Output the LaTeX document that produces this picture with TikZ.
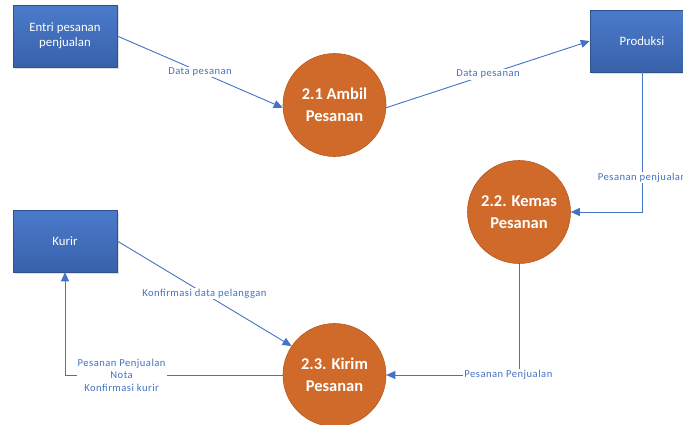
\documentclass[tikz,border=0pt]{standalone}
\usepackage{xcolor}
\usepackage{fontspec}
\setmainfont{Carlito}
\newfontfamily\lblfont[LetterSpace=4.5]{Carlito}
\usetikzlibrary{arrows.meta,shadows,positioning}

\definecolor{boxtop}{HTML}{4A7BCB}
\definecolor{boxbot}{HTML}{3961AA}
\definecolor{boxline}{HTML}{2F528F}
\definecolor{procfill}{HTML}{CF6A2A}
\definecolor{procline}{HTML}{B95A1E}
\definecolor{flowblue}{HTML}{4472C4}

\tikzset{
    entity/.style={rectangle, top color=boxtop, bottom color=boxbot, draw=boxline, line width=.5pt,
        minimum width=104pt, minimum height=62pt, align=center, text=white, font=\fontsize{12.8}{15}\selectfont,
        drop shadow={opacity=.25, shadow xshift=1.5pt, shadow yshift=-1.5pt}},
    process/.style={circle, fill=procfill, draw=procline, line width=.6pt, minimum size=103pt,
        inner sep=0pt, align=center, text=white, font=\fontsize{16.5}{22}\selectfont\bfseries},
    flow/.style={draw=flowblue, line width=.9pt, -{Triangle[length=9pt,width=8pt]}},
    lbl/.style={fill=white, text=flowblue, inner sep=1pt, align=center, font=\lblfont\fontsize{10.6}{12.5}\selectfont}
}

\begin{document}
\begin{tikzpicture}[x=1pt, y=-1pt]

        % Fix the frame.
        \useasboundingbox (0,0) rectangle (683,424);

        % Draw external entities.
        \node[entity] (entri) at (65,36) {Entri pesanan\\penjualan};
        \node[entity] (produksi) at (642,41) {Produksi};
        \node[entity] (kurir) at (65,241) {Kurir};

        % Draw processes.
        \node[process] (ambil) at (334.5,105) {2.1 Ambil\\Pesanan};
        \node[process] (kemas) at (519,212) {2.2. Kemas\\Pesanan};
        \node[process] (kirim) at (334.5,375) {2.3. Kirim\\Pesanan};

        % Draw data flows.
        \draw[flow] (entri.east) -- node[lbl]{Data pesanan} (ambil.183);
        \draw[flow] (ambil.357) -- node[lbl]{Data pesanan} (produksi.west);
        \draw[flow] (produksi.south) |- node[lbl, pos=.378]{Pesanan penjualan} (kemas.east);
        \draw[flow] (kemas.south) |- node[lbl, pos=.54]{Pesanan Penjualan} (kirim.east);
        \draw[flow] (kurir.east) -- node[lbl]{Konfirmasi data pelanggan} (kirim.146);
        \draw[flow] (kirim.west) -| node[lbl, pos=.37]{Pesanan Penjualan\\Nota\\Konfirmasi kurir} (kurir.south);

\end{tikzpicture}
\end{document}
